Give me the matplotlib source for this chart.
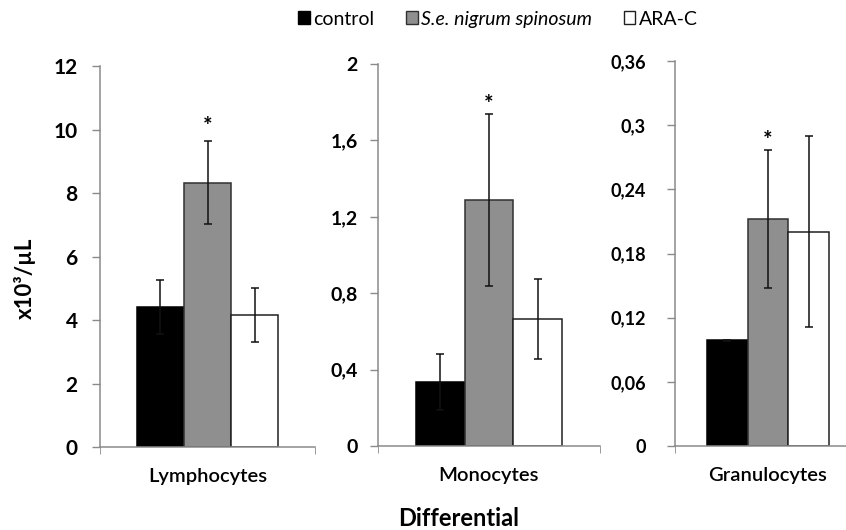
import numpy as np
import matplotlib.pyplot as plt
from matplotlib.patches import Patch

plt.rcParams['font.family'] = ['Lato', 'DejaVu Sans']

# dados
cells = ["Lymphocytes", "Monocytes", "Granulocytes"]
groups = ["control", "S.e. nigrum spinosum", "ARA-C"]

lymph_mean = [4.42, 8.33, 4.15]
lymph_err = [0.85, 1.30, 0.85]
mono_mean = [0.333, 1.288, 0.665]
mono_err = [0.147, 0.452, 0.21]
gran_mean = [0.099, 0.212, 0.2005]
gran_err = [0.0005, 0.0645, 0.0895]

star_y = [10.1, 1.79, 0.286]  # posicao dos asteriscos

lymph_ticks = [0, 2, 4, 6, 8, 10, 12]
lymph_labels = ["0", "2", "4", "6", "8", "10", "12"]
mono_ticks = [0, 0.4, 0.8, 1.2, 1.6, 2.0]
mono_labels = ["0", "0,4", "0,8", "1,2", "1,6", "2"]
gran_ticks = [0, 0.06, 0.12, 0.18, 0.24, 0.30, 0.36]
gran_labels = ["0", "0,06", "0,12", "0,18", "0,24", "0,3", "0,36"]

colors = ["black", "#8f8f8f", "white"]
edges = ["black", "#303030", "#202020"]
spine_col = "#8a8a8a"

W, H = 846, 530
fig = plt.figure(figsize=(W / 100, H / 100), dpi=100)

# (left, top, right, bottom) em pixels
boxes = [(100, 66, 315, 447), (378, 64, 600, 446), (675, 61, 861, 446)]
means = [lymph_mean, mono_mean, gran_mean]
errs = [lymph_err, mono_err, gran_err]
ticks = [lymph_ticks, mono_ticks, gran_ticks]
tlabels = [lymph_labels, mono_labels, gran_labels]
tick_fs = [15, 14, 13]
pads = [10, 8.5, 15]

bw = 0.22
for k in range(3):
    l, t, r, b = boxes[k]
    ax = fig.add_axes([l / W, (H - b) / H, (r - l) / W, (b - t) / H])
    x = 0.5 + (np.arange(3) - 1) * bw
    ax.bar(x, means[k], width=bw, color=colors, edgecolor=edges, linewidth=1.1, zorder=2)
    ax.errorbar(x, means[k], yerr=errs[k], fmt="none", ecolor="#111111",
                elinewidth=1.1, capsize=3, capthick=1.1, zorder=3)
    ax.text(x[1], star_y[k], "*", ha="center", va="center", fontsize=16, fontweight="bold")
    ax.set_xlim(0, 1)
    ax.set_ylim(ticks[k][0], ticks[k][-1])
    ax.set_yticks(ticks[k])
    ax.set_yticklabels(tlabels[k], fontsize=tick_fs[k], fontweight="bold")
    ax.set_xticks([0.5])
    ax.set_xticklabels([cells[k]], fontsize=14.5, fontweight="semibold")
    ax.set_xticks([0, 1], minor=True)
    ax.tick_params(axis="x", which="major", length=0, pad=15)
    ax.tick_params(axis="x", which="minor", length=5, color=spine_col, direction="out")
    ax.tick_params(axis="y", length=6, color=spine_col, width=1, pad=pads[k])
    for s in ["top", "right"]:
        ax.spines[s].set_visible(False)
    for s in ["left", "bottom"]:
        ax.spines[s].set_color(spine_col)
        ax.spines[s].set_linewidth(1.1)

fig.text(25 / W, 1 - 278 / H, "x10³/µL", rotation=90, ha="center", va="center",
         fontsize=16, fontweight="bold")
fig.text(459 / W, 1 - 518 / H, "Differential", ha="center", va="center",
         fontsize=17, fontweight="bold")

handles = [Patch(facecolor=colors[i], edgecolor=edges[i], linewidth=1) for i in range(3)]
leg = fig.legend(handles, groups, loc="center", bbox_to_anchor=(498 / W, 1 - 19 / H),
                 ncol=3, frameon=False, fontsize=14, handlelength=0.6, handleheight=0.6,
                 handletextpad=0.2, columnspacing=1.6)
leg.get_texts()[1].set_fontstyle("italic")

fig.savefig("out.png", dpi=100)
